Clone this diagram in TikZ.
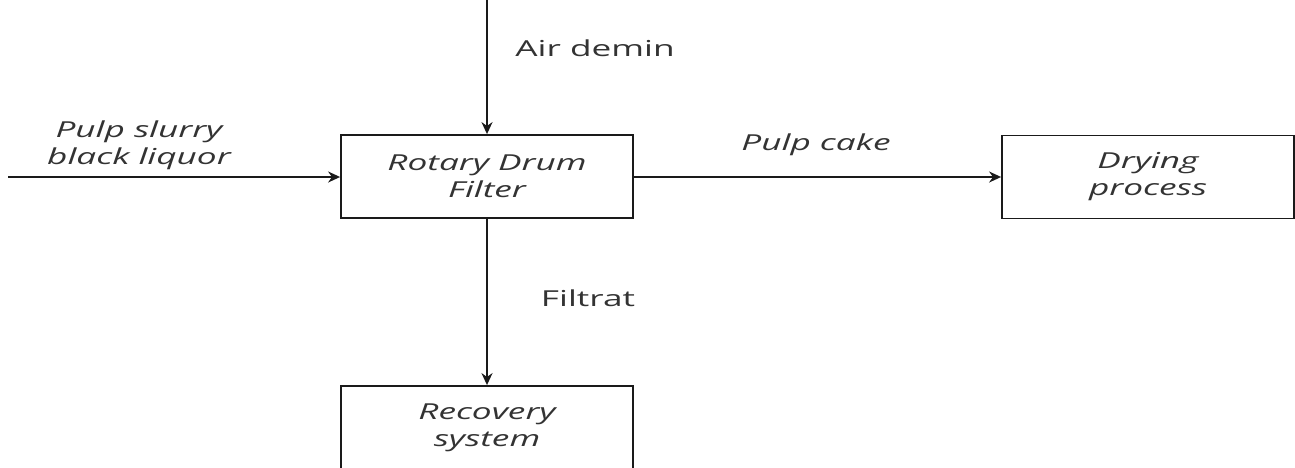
\documentclass[tikz,border=0pt]{standalone}
\usepackage{fontspec}
\setmainfont{Open Sans}[FakeStretch=1.6]
\usepackage{tikz}
\usetikzlibrary{arrows.meta, positioning}
\usepackage{xcolor}
\definecolor{FlowLine}{HTML}{1A1A1A}
\definecolor{FlowText}{HTML}{333333}
\newcommand{\flowfont}{\fontsize{11pt}{13.5pt}\selectfont}
\tikzset{
    % Box styles - plain rectangles
    unit/.style={
        rectangle,
        draw=FlowLine,
        fill=white,
        line width=0.9pt,
        minimum width=146pt,
        minimum height=41.5pt,
        align=center,
        text=FlowText,
        font=\flowfont\itshape
    },
    % Stream labels
    streamlabel/.style={
        align=center,
        text=FlowText,
        inner sep=0pt,
        font=\flowfont
    },
    slantlabel/.style={
        streamlabel,
        font=\flowfont\itshape
    },
    % Arrow styles - straight lines only
    flow/.style={
        -{Stealth[length=6pt, width=5.5pt]},
        line width=0.9pt,
        draw=FlowLine
    }
}

\begin{document}
\begin{tikzpicture}[x=0.5pt, y=-0.5pt]
    \useasboundingbox (0,0) rectangle (1295,467);
    \clip (0,0) rectangle (1295,467);

    \node[unit] (rdf) at (487,176.5) {Rotary Drum\\Filter};
    \node[unit] (dry) at (1148,177) {Drying\\process};
    \node[unit] (rec) at (487,427.5) {Recovery\\system};

    \coordinate (airin) at (487,0);
    \coordinate (feedin) at (8,177);

    \draw[flow] (airin) -- (rdf);
    \draw[flow] (feedin) -- (feedin -| rdf.west);
    \draw[flow] (rdf.east |- dry.west) -- (dry.west);
    \draw[flow] (rdf) -- (rec);

    \node[streamlabel] (air) at (595,48) {Air demin};
    \node[slantlabel] (feed) at (139,145) {Pulp slurry\\black liquor};
    \node[slantlabel] (cake) at (816,145) {Pulp cake};
    \node[streamlabel] (filt) at (588,298) {Filtrat};
\end{tikzpicture}
\end{document}
